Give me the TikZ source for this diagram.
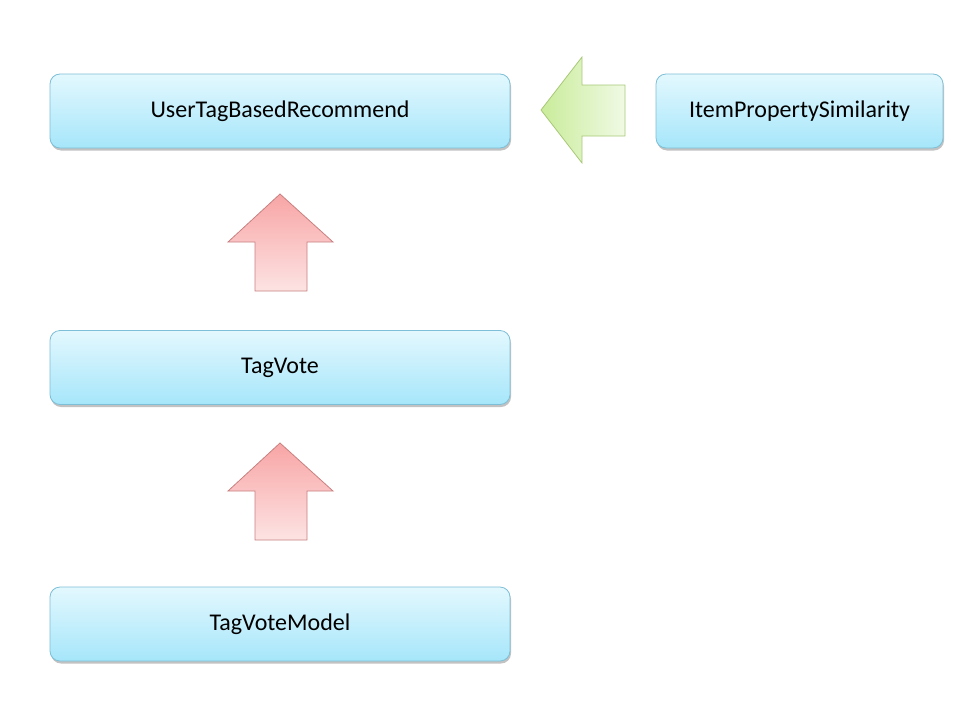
\documentclass[tikz,border=0pt]{standalone}
\usepackage{fontspec}
\setmainfont{Carlito}
\usetikzlibrary{shadows}
\definecolor{boxtop}{HTML}{E3F8FE}
\definecolor{boxbot}{HTML}{A6E6FA}
\definecolor{boxline}{HTML}{7DBFD6}
\definecolor{redtop}{HTML}{F8A5A5}
\definecolor{redbot}{HTML}{FDE3E3}
\definecolor{redline}{HTML}{C88080}
\definecolor{greenl}{HTML}{C9EC9A}
\definecolor{greenr}{HTML}{F0FAE4}
\definecolor{greenline}{HTML}{A8C878}
\tikzset{
  clsbox/.style={draw=boxline, line width=0.8pt, rounded corners=10pt,
    top color=boxtop, bottom color=boxbot, minimum height=74pt,
    font=\fontsize{24}{28}\selectfont, text=black,
    drop shadow={shadow xshift=1pt, shadow yshift=-2.5pt, opacity=0.4, fill=black!60}},
  uparrow/.style={draw=redline, line width=0.8pt, top color=redtop, bottom color=redbot},
  leftarrow/.style={draw=greenline, line width=0.8pt, left color=greenl, right color=greenr}
}
\begin{document}
\begin{tikzpicture}[x=1pt,y=-1pt]
\useasboundingbox (0,0) rectangle (960,720);
\node[clsbox, minimum width=460pt] (utbr) at (280,111) {\raisebox{-1pt}{UserTagBasedRecommend}};
\node[clsbox, minimum width=287pt] (ips) at (799.5,111) {\raisebox{-1pt}{ItemPropertySimilarity}};
\node[clsbox, minimum width=460pt] (tv) at (280,367.5) {\raisebox{-1pt}{TagVote}};
\node[clsbox, minimum width=460pt] (tvm) at (280,624) {\raisebox{-1pt}{TagVoteModel}};
% block arrows
\path[uparrow] (280,194) -- (333,242) -- (307,242) -- (307,291) -- (255,291) -- (255,242) -- (228,242) -- cycle;
\path[uparrow] (280,443) -- (333,491) -- (307,491) -- (307,540) -- (255,540) -- (255,491) -- (228,491) -- cycle;
\path[leftarrow] (541,110) -- (582,57) -- (582,85) -- (625,85) -- (625,136) -- (582,136) -- (582,163) -- cycle;
\end{tikzpicture}
\end{document}
